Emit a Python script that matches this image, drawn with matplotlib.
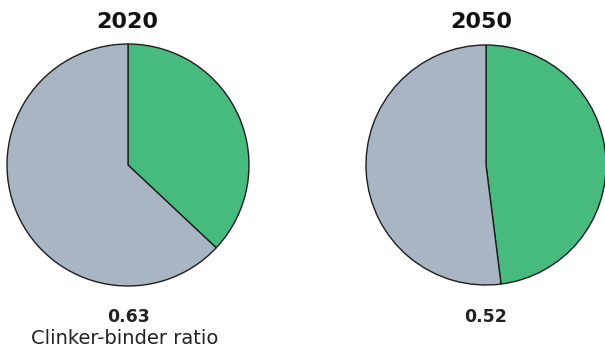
import matplotlib
matplotlib.use("Agg")
import matplotlib.pyplot as plt

# Clinker-binder ratio by year
years = ["2020", "2050"]
ratios = [0.63, 0.52]
caption = "Clinker-binder ratio"

green = "#47BA7E"
grey = "#AAB5C3"
edge = "#1E1E1E"

plt.rcParams["font.family"] = ["DejaVu Sans"]

W, H = 605, 352
fig = plt.figure(figsize=(W / 100, H / 100), dpi=100)
ax = fig.add_axes([0, 0, 1, 1])

centers = [(128, H - 165), (486, H - 165)]
radii = [121, 120]
title_x = [127, 481]

for i, (yr, r) in enumerate(zip(years, ratios)):
    cx, cy = centers[i]
    ax.pie([1 - r, r], colors=[green, grey], startangle=90,
           counterclock=False, center=(cx, cy), radius=radii[i],
           wedgeprops=dict(edgecolor=edge, linewidth=1.0),
           frame=True)
    ax.text(title_x[i], H - 28, yr, ha="center", va="baseline",
            fontsize=16, fontweight="bold", color="#111111")
    ax.text(cx, H - 321.5, f"{r:.2f}", ha="center", va="baseline",
            fontsize=12.5, fontweight="bold", color="#222222")

ax.text(124.5, H - 344, caption, ha="center", va="baseline",
        fontsize=14, color="#222222")

ax.set_xlim(0, W)
ax.set_ylim(0, H)
ax.set_aspect("equal")
ax.axis("off")
fig.savefig("out.png", dpi=100)
